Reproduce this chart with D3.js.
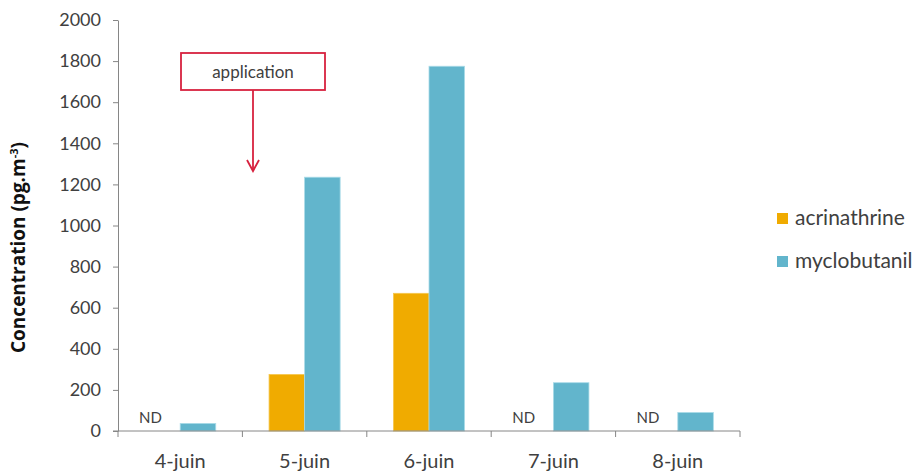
<!DOCTYPE html>
<html>
<head>
<meta charset="utf-8">
<script src="https://cdn.jsdelivr.net/npm/d3@7"></script>
<style>
  body { margin: 0; background: #fff; }
  svg { display: block; }
  text { font-family: Lato, "Open Sans", sans-serif; }
</style>
</head>
<body>
<svg id="chart" width="916" height="474"></svg>
<script>
const categories = ["4-juin", "5-juin", "6-juin", "7-juin", "8-juin"];
const seriesNames = ["acrinathrine", "myclobutanil"];
const acrinathrine = [null, 275, 670, null, null];
const myclobutanil = [37, 1235, 1775, 235, 90];
const yTicks = [0, 200, 400, 600, 800, 1000, 1200, 1400, 1600, 1800, 2000];
const colors = ["#F0AB00", "#62B5CC"];
const annotationText = "application";
const ndLabel = "ND";
const yTitle = "Concentration (pg.m";
const yTitleSup = "-3";

(function () {
const svg = d3.select("#chart");
const mLeft = 118, mRight = 740, mTop = 20, mBottom = 431;
const textColor = "#404040";

const x = d3.scaleBand().domain(categories).range([mLeft, mRight]).paddingInner(0).paddingOuter(0);
const x1 = d3.scaleBand().domain(seriesNames).range([0, x.bandwidth()]).paddingInner(0).paddingOuter(0.75);
const y = d3.scaleLinear().domain([0, 2000]).range([mBottom, mTop]);

const axisColor = "#868686";

// Y axis
const yAxis = d3.axisLeft(y).tickValues(yTicks).tickSize(5).tickSizeOuter(0).tickFormat(d3.format("d"));
const gy = svg.append("g").attr("transform", `translate(${mLeft},0)`).call(yAxis);
gy.select(".domain").attr("stroke", axisColor);
gy.selectAll(".tick line").attr("stroke", axisColor);
gy.selectAll(".tick text").attr("font-size", 18).attr("fill", textColor).attr("x", -17)
  .style("font-family", "Lato, 'Open Sans', sans-serif");

// Bars
const data = categories.map((c, i) => ({ cat: c, values: [acrinathrine[i], myclobutanil[i]] }));
const groups = svg.append("g").selectAll("g").data(data).join("g")
  .attr("transform", d => `translate(${x(d.cat)},0)`);
groups.selectAll("rect")
  .data(d => d.values.map((v, j) => ({ series: seriesNames[j], v, j })).filter(e => e.v != null))
  .join("rect")
  .attr("x", e => x1(e.series))
  .attr("width", x1.bandwidth())
  .attr("y", e => y(e.v))
  .attr("height", e => y(0) - y(e.v))
  .attr("fill", e => colors[e.j])
  .attr("stroke", e => e.j === 1 ? "#a9dbe8" : "#f5c64d")
  .attr("stroke-width", 0.8);

// ND labels
groups.filter(d => d.values[0] == null).append("text")
  .attr("x", x1("acrinathrine") + x1.bandwidth() / 2 - 12)
  .attr("y", y(0) - 8)
  .attr("text-anchor", "middle")
  .attr("font-size", 15)
  .attr("fill", textColor)
  .text(ndLabel);

// X axis
const xAxisG = svg.append("g").attr("transform", `translate(0,${mBottom})`);
xAxisG.append("line").attr("x1", mLeft - 5).attr("x2", mRight).attr("y1", 0).attr("y2", 0).attr("stroke", axisColor);
const bounds = categories.map(c => x(c)).concat([mRight]);
xAxisG.selectAll("line.tk").data(bounds).join("line").attr("class", "tk")
  .attr("x1", d => d).attr("x2", d => d).attr("y1", 0).attr("y2", 6).attr("stroke", axisColor);
xAxisG.selectAll("text").data(categories).join("text")
  .attr("x", d => x(d) + x.bandwidth() / 2)
  .attr("y", 37)
  .attr("text-anchor", "middle")
  .attr("font-size", 20)
  .attr("fill", textColor)
  .text(d => d);

// Y title
const yt = svg.append("text")
  .attr("transform", `translate(25,${(mTop + mBottom) / 2 + 22}) rotate(-90)`)
  .attr("text-anchor", "middle")
  .attr("font-size", 19)
  .attr("font-weight", "bold")
  .style("font-family", "'Open Sans', Lato, sans-serif")
  .attr("fill", "#111");
yt.append("tspan").text(yTitle);
yt.append("tspan").attr("dy", -7).attr("font-size", 11).text(yTitleSup);
yt.append("tspan").attr("dy", 7).text(")");

// Legend
const legend = svg.append("g").selectAll("g").data(seriesNames).join("g")
  .attr("transform", (d, i) => `translate(777,${213 + i * 43})`);
legend.append("rect").attr("width", 11).attr("height", 11).attr("fill", (d, i) => colors[i]);
legend.append("text").attr("x", 18).attr("y", 12).attr("font-size", 21).attr("fill", textColor).text(d => d);

// Annotation
const ann = svg.append("g");
const boxW = 144, boxH = 37, boxTop = 53;
const boxCx = 253;
ann.append("rect").attr("x", boxCx - boxW / 2).attr("y", boxTop).attr("width", boxW).attr("height", boxH)
  .attr("fill", "#fff").attr("stroke", "#D7223F").attr("stroke-width", 1.8);
ann.append("text").attr("x", boxCx).attr("y", boxTop + 25).attr("text-anchor", "middle")
  .attr("font-size", 17).attr("fill", textColor).text(annotationText);
const tipY = 171;
ann.append("line").attr("x1", boxCx).attr("x2", boxCx).attr("y1", boxTop + boxH).attr("y2", tipY)
  .attr("stroke", "#D7223F").attr("stroke-width", 1.8);
ann.append("path").attr("d", `M${boxCx - 6},${tipY - 11} L${boxCx},${tipY} L${boxCx + 6},${tipY - 11}`)
  .attr("fill", "none").attr("stroke", "#D7223F").attr("stroke-width", 1.8);
})();
</script>
</body>
</html>
